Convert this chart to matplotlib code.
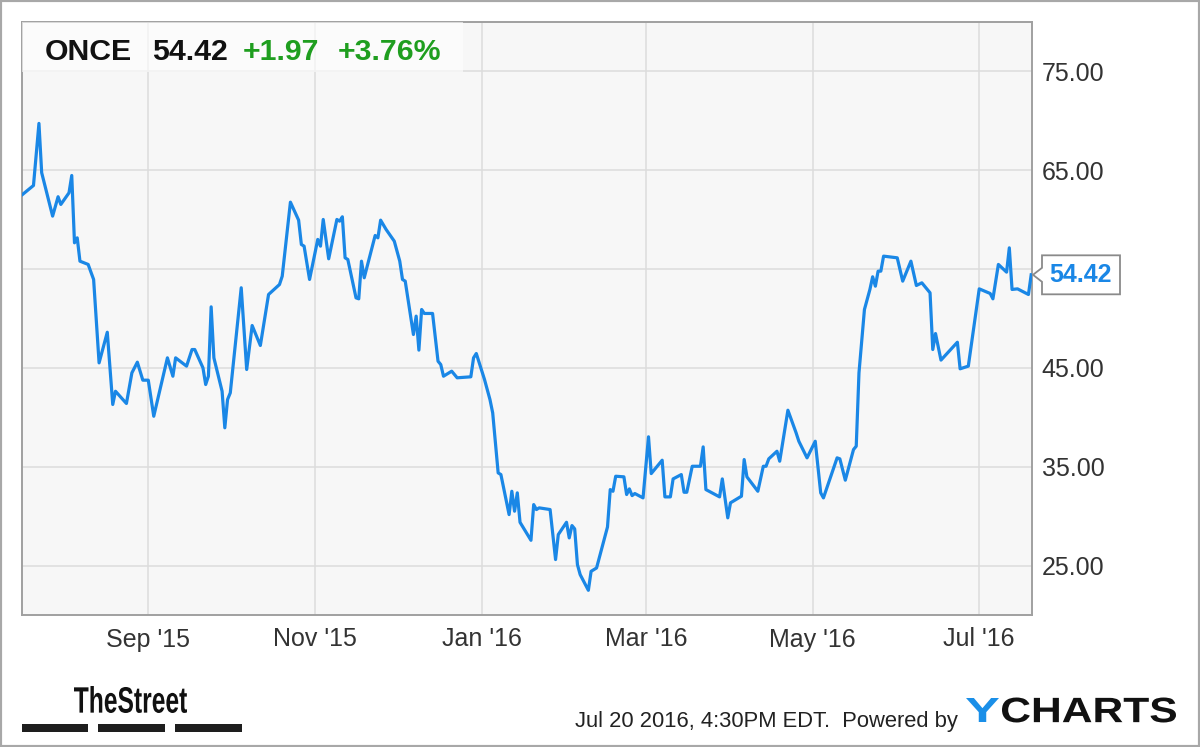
from datetime import datetime

import matplotlib
matplotlib.use("Agg")
import matplotlib.pyplot as plt
import matplotlib.dates as mdates
from matplotlib.font_manager import FontProperties
from matplotlib.patches import PathPatch, Polygon, Rectangle
from matplotlib.textpath import TextPath
from matplotlib.transforms import Affine2D, IdentityTransform

W, H = 1200, 747
FONT = "Liberation Sans"

TICKER = "ONCE"
CHANGE = "+1.97"
CHANGE_PCT = "+3.76%"
STAMP = "Jul 20 2016, 4:30PM EDT.  Powered by"

dates = [
    "2015-07-17", "2015-07-21", "2015-07-23", "2015-07-24", "2015-07-28", "2015-07-30",
    "2015-07-31", "2015-08-03", "2015-08-04", "2015-08-05", "2015-08-06", "2015-08-07",
    "2015-08-10", "2015-08-12", "2015-08-14", "2015-08-17", "2015-08-19", "2015-08-20",
    "2015-08-24", "2015-08-26", "2015-08-28", "2015-08-30", "2015-09-01", "2015-09-03",
    "2015-09-08", "2015-09-10", "2015-09-11", "2015-09-15", "2015-09-17", "2015-09-18",
    "2015-09-21", "2015-09-22", "2015-09-23", "2015-09-24", "2015-09-25", "2015-09-28",
    "2015-09-29", "2015-09-30", "2015-10-01", "2015-10-05", "2015-10-07", "2015-10-09",
    "2015-10-12", "2015-10-15", "2015-10-19", "2015-10-20", "2015-10-23", "2015-10-26",
    "2015-10-27", "2015-10-28", "2015-10-30", "2015-11-02", "2015-11-03", "2015-11-04",
    "2015-11-06", "2015-11-09", "2015-11-10", "2015-11-11", "2015-11-12", "2015-11-13",
    "2015-11-16", "2015-11-17", "2015-11-18", "2015-11-19", "2015-11-23", "2015-11-24",
    "2015-11-25", "2015-11-27", "2015-11-30", "2015-12-02", "2015-12-03", "2015-12-04",
    "2015-12-07", "2015-12-08", "2015-12-09", "2015-12-10", "2015-12-11", "2015-12-14",
    "2015-12-16", "2015-12-17", "2015-12-18", "2015-12-21", "2015-12-23", "2015-12-28",
    "2015-12-29", "2015-12-30", "2016-01-02", "2016-01-04", "2016-01-05", "2016-01-07",
    "2016-01-08", "2016-01-11", "2016-01-12", "2016-01-13", "2016-01-14", "2016-01-15",
    "2016-01-19", "2016-01-20", "2016-01-21", "2016-01-22", "2016-01-26", "2016-01-28",
    "2016-01-29", "2016-02-01", "2016-02-02", "2016-02-03", "2016-02-04", "2016-02-05",
    "2016-02-06", "2016-02-09", "2016-02-10", "2016-02-12", "2016-02-16", "2016-02-17",
    "2016-02-18", "2016-02-19", "2016-02-22", "2016-02-23", "2016-02-24", "2016-02-25",
    "2016-02-26", "2016-02-29", "2016-03-02", "2016-03-03", "2016-03-07", "2016-03-08",
    "2016-03-10", "2016-03-11", "2016-03-14", "2016-03-15", "2016-03-16", "2016-03-18",
    "2016-03-21", "2016-03-22", "2016-03-23", "2016-03-28", "2016-03-29", "2016-03-31",
    "2016-04-01", "2016-04-05", "2016-04-06", "2016-04-07", "2016-04-11", "2016-04-13",
    "2016-04-14", "2016-04-15", "2016-04-18", "2016-04-19", "2016-04-22", "2016-04-25",
    "2016-04-26", "2016-04-29", "2016-05-02", "2016-05-04", "2016-05-05", "2016-05-10",
    "2016-05-11", "2016-05-13", "2016-05-16", "2016-05-17", "2016-05-18", "2016-05-20",
    "2016-05-22", "2016-05-23", "2016-05-24", "2016-05-25", "2016-05-26", "2016-05-27",
    "2016-05-29", "2016-06-01", "2016-06-03", "2016-06-06", "2016-06-08", "2016-06-10",
    "2016-06-13", "2016-06-14", "2016-06-15", "2016-06-17", "2016-06-23", "2016-06-24",
    "2016-06-27", "2016-07-01", "2016-07-05", "2016-07-06", "2016-07-08", "2016-07-11",
    "2016-07-12", "2016-07-13", "2016-07-15", "2016-07-19", "2016-07-20",
]
prices = [
    62.55, 63.46, 69.74, 64.75, 60.36, 62.32,
    61.54, 62.72, 64.47, 57.66, 58.16, 55.80,
    55.47, 53.95, 45.51, 48.61, 41.30, 42.64,
    41.40, 44.50, 45.58, 43.76, 43.76, 40.11,
    46.02, 44.16, 46.02, 45.18, 46.86, 46.86,
    45.01, 43.32, 44.16, 51.18, 46.02, 42.64,
    38.94, 41.80, 42.48, 53.11, 44.84, 49.29,
    47.27, 52.43, 53.44, 54.28, 61.77, 59.95,
    57.49, 57.32, 53.95, 58.00, 57.32, 60.02,
    56.04, 60.02, 59.85, 60.29, 56.14, 55.97,
    52.09, 51.99, 55.80, 54.12, 58.40, 58.16,
    59.95, 59.01, 57.82, 55.80, 53.95, 53.78,
    48.38, 50.24, 46.80, 50.91, 50.51, 50.51,
    45.68, 45.34, 44.16, 44.67, 44.00, 44.10,
    46.02, 46.46, 43.83, 41.80, 40.45, 34.38,
    34.21, 30.16, 32.52, 30.50, 32.36, 29.38,
    27.56, 31.17, 30.67, 30.84, 30.67, 25.61,
    28.14, 29.38, 27.80, 29.05, 28.71, 25.10,
    24.09, 22.50, 24.42, 24.76, 28.91, 32.69,
    32.52, 34.04, 33.98, 32.19, 32.76, 32.08,
    32.29, 31.85, 38.03, 34.31, 35.66, 31.95,
    31.95, 33.77, 34.21, 32.42, 32.42, 35.05,
    35.05, 37.01, 32.69, 31.95, 33.77, 29.83,
    31.35, 32.02, 35.73, 33.98, 32.52, 35.05,
    35.05, 35.80, 36.57, 35.56, 40.72, 38.43,
    37.58, 35.90, 37.58, 32.36, 31.85, 35.90,
    35.80, 33.64, 36.74, 37.08, 44.50, 50.91,
    52.94, 54.22, 53.27, 54.79, 54.79, 56.31,
    56.24, 56.14, 53.78, 55.80, 53.34, 53.61,
    52.60, 46.86, 48.48, 45.79, 47.60, 44.91,
    45.18, 53.00, 52.53, 51.99, 55.47, 54.69,
    57.15, 52.94, 53.00, 52.43, 54.42,
]
y_ticks = [25, 35, 45, 55, 65, 75]
x_ticks = ["2015-09-01", "2015-11-01", "2016-01-01", "2016-03-01", "2016-05-01", "2016-07-01"]
x_labels = ["Sep '15", "Nov '15", "Jan '16", "Mar '16", "May '16", "Jul '16"]

LINE_BLUE = "#1a87e6"
GREEN = "#1f9e1f"


def fx(x):
    return x / W


def fy(y):
    return 1 - y / H


def bold_path(s):
    return TextPath((0, 0), s, size=100, prop=FontProperties(family=FONT, weight="bold"))


def path_text(fig, s, x_left, y_bottom, width, height, color):
    # glyph outline stretched into a pixel box, like the logo lettering
    tp = bold_path(s)
    ext = tp.get_extents()
    tr = (Affine2D().translate(-ext.x0, -ext.y0)
          .scale(width / ext.width, height / ext.height)
          .translate(x_left, H - y_bottom))
    fig.add_artist(PathPatch(tr.transform_path(tp), facecolor=color, lw=0,
                             transform=IdentityTransform()))


def main() -> None:
    xs = [datetime.strptime(d, "%Y-%m-%d") for d in dates]
    fig = plt.figure(figsize=(W / 100, H / 100), dpi=100)
    fig.patch.set_facecolor("white")

    ax = fig.add_axes([fx(22), fy(615), fx(1032 - 22), (615 - 22) / H])
    ax.set_facecolor("#f7f7f7")
    ax.plot(xs, prices, color=LINE_BLUE, lw=2.3, zorder=3)

    ax.set_xlim(mdates.date2num(xs[0]) - 0.2, mdates.date2num(xs[-1]) + 0.3)
    ax.set_ylim(20, 80)
    ax.yaxis.tick_right()
    ax.set_yticks(y_ticks)
    # the 55.00 label sits under the last-price tag, so it is not shown
    last = prices[-1]
    ax.set_yticklabels(["" if abs(v - last) < 3 else f"{v:.2f}" for v in y_ticks])
    ax.set_xticks([datetime.strptime(d, "%Y-%m-%d") for d in x_ticks])
    ax.set_xticklabels(x_labels)
    ax.tick_params(axis="both", length=0, labelsize=18, labelcolor="#333333")
    ax.tick_params(axis="y", pad=7)
    ax.tick_params(axis="x", pad=9)
    for lab in ax.get_xticklabels() + ax.get_yticklabels():
        lab.set_fontfamily(FONT)
    ax.grid(True, color="#dcdcdc", lw=1.1, zorder=1)
    for side in ["left", "right", "bottom", "top"]:
        ax.spines[side].set_color("#a0a0a0")
        ax.spines[side].set_linewidth(1.4)

    # header box with quote
    fig.add_artist(Rectangle((fx(22), fy(72)), fx(463 - 22), (72 - 22) / H,
                             transform=fig.transFigure, facecolor="white", alpha=0.6, lw=0))
    last_txt = f"{last:.2f}"
    hdr = dict(fontsize=21.8, family=FONT, va="baseline", ha="left", weight="bold")
    fig.text(fx(45), fy(60), TICKER, color="#111111", **hdr)
    fig.text(fx(152), fy(60), last_txt, color="#111111", **hdr)
    fig.text(fx(243), fy(60), CHANGE, color=GREEN, **hdr)
    fig.text(fx(338), fy(60), CHANGE_PCT, color=GREEN, **hdr)

    # last price tag on the right axis
    _, py = ax.transData.transform((mdates.date2num(xs[-1]), last))
    right = ax.transAxes.transform((1, 0))[0]
    bx0, bx1, half = right + 10, right + 88, 19.5
    tag = [(right + 1, py), (bx0, py + 7), (bx0, py + half), (bx1, py + half),
           (bx1, py - half), (bx0, py - half), (bx0, py - 7)]
    fig.add_artist(Polygon(tag, closed=True, facecolor="white", edgecolor="#8a8a8a",
                           lw=1.3, transform=IdentityTransform()))
    fig.text((bx0 + bx1) / 2 / W, py / H, last_txt, fontsize=18, weight="bold", family=FONT,
             color=LINE_BLUE, ha="center", va="center")

    # footer
    path_text(fig, "TheStreet", 74, 713, 187 - 74, 713 - 686, "#111111")
    for x0, x1 in [(22, 88), (98, 165), (175, 242)]:
        fig.add_artist(Rectangle((fx(x0), fy(732)), fx(x1 - x0), 8 / H,
                                 transform=fig.transFigure, facecolor="#1e1e1e", lw=0))
    fig.text(fx(575), fy(727.5), STAMP, fontsize=15.8, family=FONT, color="#222222",
             ha="left", va="baseline")
    path_text(fig, "Y", 966, 722, 33, 24, "#1a8fe8")
    path_text(fig, "CHARTS", 1002, 722.5, 1176 - 1002, 25, "#111111")

    # outer frame
    fig.add_artist(Rectangle((0, 0), 1, 1, transform=fig.transFigure, fill=False,
                             edgecolor="#a8a8a8", lw=3))

    fig.savefig("out.png", dpi=100)


if __name__ == "__main__":
    main()
